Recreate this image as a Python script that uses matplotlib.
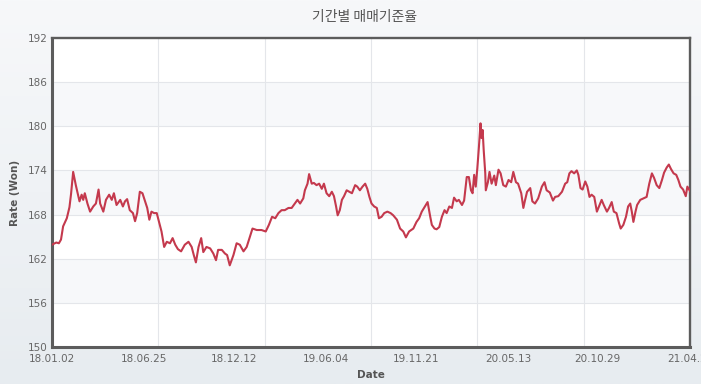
import numpy as np
import pandas as pd
import matplotlib
matplotlib.use("Agg")
import matplotlib.pyplot as plt
import matplotlib.dates as mdates

dates = [
    "2018-01-02", "2018-01-10", "2018-01-15", "2018-01-19", "2018-01-23", "2018-01-30",
    "2018-02-04", "2018-02-07", "2018-02-11", "2018-02-16", "2018-02-23", "2018-02-27",
    "2018-03-02", "2018-03-05", "2018-03-10", "2018-03-15", "2018-03-21", "2018-03-26",
    "2018-03-31", "2018-04-03", "2018-04-09", "2018-04-14", "2018-04-20", "2018-04-25",
    "2018-04-29", "2018-05-04", "2018-05-11", "2018-05-16", "2018-05-20", "2018-05-24",
    "2018-05-29", "2018-06-04", "2018-06-08", "2018-06-12", "2018-06-17", "2018-06-22",
    "2018-06-27", "2018-07-01", "2018-07-05", "2018-07-09", "2018-07-14", "2018-07-19",
    "2018-07-24", "2018-07-28", "2018-08-02", "2018-08-07", "2018-08-13", "2018-08-18",
    "2018-08-23", "2018-08-28", "2018-09-03", "2018-09-10", "2018-09-17", "2018-09-23",
    "2018-09-27", "2018-10-01", "2018-10-06", "2018-10-11", "2018-10-15", "2018-10-21",
    "2018-10-28", "2018-11-03", "2018-11-08", "2018-11-12", "2018-11-19", "2018-11-25",
    "2018-11-29", "2018-12-04", "2018-12-11", "2018-12-17", "2018-12-23", "2018-12-30",
    "2019-01-05", "2019-01-09", "2019-01-16", "2019-01-24", "2019-02-02", "2019-02-10",
    "2019-02-16", "2019-02-22", "2019-02-28", "2019-03-06", "2019-03-12", "2019-03-18",
    "2019-03-25", "2019-03-31", "2019-04-06", "2019-04-11", "2019-04-16", "2019-04-22",
    "2019-04-25", "2019-04-30", "2019-05-03", "2019-05-08", "2019-05-12", "2019-05-17",
    "2019-05-22", "2019-05-27", "2019-05-31", "2019-06-05", "2019-06-10", "2019-06-15",
    "2019-06-19", "2019-06-23", "2019-06-26", "2019-06-30", "2019-07-04", "2019-07-08",
    "2019-07-13", "2019-07-18", "2019-07-23", "2019-07-29", "2019-08-02", "2019-08-07",
    "2019-08-12", "2019-08-17", "2019-08-21", "2019-08-25", "2019-08-29", "2019-09-03",
    "2019-09-08", "2019-09-12", "2019-09-17", "2019-09-22", "2019-09-28", "2019-10-04",
    "2019-10-09", "2019-10-16", "2019-10-22", "2019-10-28", "2019-11-02", "2019-11-08",
    "2019-11-16", "2019-11-22", "2019-11-27", "2019-12-02", "2019-12-08", "2019-12-13",
    "2019-12-18", "2019-12-21", "2019-12-26", "2019-12-30", "2020-01-04", "2020-01-09",
    "2020-01-14", "2020-01-18", "2020-01-23", "2020-01-28", "2020-02-01", "2020-02-06",
    "2020-02-10", "2020-02-16", "2020-02-20", "2020-02-25", "2020-02-29", "2020-03-04",
    "2020-03-07", "2020-03-10", "2020-03-13", "2020-03-16", "2020-03-19", "2020-03-22",
    "2020-03-24", "2020-03-26", "2020-03-28", "2020-03-31", "2020-04-01", "2020-04-05",
    "2020-04-08", "2020-04-12", "2020-04-17", "2020-04-20", "2020-04-25", "2020-04-29",
    "2020-05-04", "2020-05-09", "2020-05-14", "2020-05-19", "2020-05-23", "2020-05-28",
    "2020-06-01", "2020-06-07", "2020-06-11", "2020-06-14", "2020-06-18", "2020-06-24",
    "2020-06-28", "2020-07-03", "2020-07-09", "2020-07-16", "2020-07-21", "2020-07-25",
    "2020-07-31", "2020-08-06", "2020-08-10", "2020-08-16", "2020-08-23", "2020-08-29",
    "2020-09-02", "2020-09-06", "2020-09-10", "2020-09-15", "2020-09-20", "2020-09-23",
    "2020-09-27", "2020-10-01", "2020-10-06", "2020-10-10", "2020-10-14", "2020-10-18",
    "2020-10-23", "2020-10-28", "2020-11-02", "2020-11-06", "2020-11-10", "2020-11-16",
    "2020-11-20", "2020-11-25", "2020-11-29", "2020-12-04", "2020-12-09", "2020-12-12",
    "2020-12-17", "2020-12-22", "2020-12-26", "2020-12-30", "2021-01-02", "2021-01-05",
    "2021-01-09", "2021-01-12", "2021-01-18", "2021-01-24", "2021-01-30", "2021-02-04",
    "2021-02-09", "2021-02-13", "2021-02-18", "2021-02-23", "2021-02-28", "2021-03-04",
    "2021-03-09", "2021-03-13", "2021-03-17", "2021-03-22", "2021-03-27", "2021-03-31",
    "2021-04-04", "2021-04-09", "2021-04-14", "2021-04-17", "2021-04-22",
]
rates = [
    163.9, 164.2, 164.1, 164.6, 166.4, 167.5,
    169.0, 170.8, 173.8, 172.0, 169.8, 170.7,
    170.0, 170.9, 169.5, 168.4, 169.1, 169.5,
    171.4, 169.5, 168.4, 170.0, 170.7, 170.0,
    170.9, 169.3, 170.0, 169.1, 169.8, 170.1,
    168.6, 168.2, 167.1, 168.2, 171.1, 170.9,
    169.8, 168.9, 167.3, 168.4, 168.2, 168.2,
    166.8, 165.7, 163.6, 164.3, 164.1, 164.8,
    163.9, 163.3, 163.0, 163.9, 164.3, 163.6,
    162.5, 161.5, 163.6, 164.8, 162.9, 163.6,
    163.4, 162.7, 161.8, 163.2, 163.2, 162.7,
    162.5, 161.1, 162.5, 164.1, 163.9, 163.0,
    163.6, 164.5, 166.1, 165.9, 165.9, 165.7,
    166.6, 167.7, 167.5, 168.2, 168.6, 168.6,
    168.9, 168.9, 169.5, 170.0, 169.5, 170.2,
    171.3, 172.2, 173.5, 172.2, 172.3, 172.0,
    172.2, 171.5, 172.2, 170.9, 170.5, 171.1,
    170.5, 169.1, 167.9, 168.6, 170.0, 170.5,
    171.3, 171.1, 170.9, 172.0, 171.8, 171.3,
    171.8, 172.2, 171.5, 170.4, 169.5, 169.1,
    168.9, 167.5, 167.7, 168.2, 168.4, 168.2,
    167.9, 167.3, 166.1, 165.7, 164.9, 165.7,
    166.1, 167.0, 167.5, 168.4, 169.1, 169.7,
    167.7, 166.6, 166.1, 166.0, 166.3, 167.7,
    168.6, 168.2, 169.1, 168.9, 170.3, 169.8,
    170.0, 169.3, 169.9, 173.1, 173.1, 171.3,
    170.9, 173.4, 171.8, 174.3, 177.2, 180.4,
    178.4, 179.5, 176.8, 173.6, 171.3, 172.4,
    173.8, 172.2, 173.3, 172.0, 174.1, 173.6,
    172.0, 171.8, 172.7, 172.4, 173.8, 172.4,
    172.2, 170.9, 168.9, 169.9, 171.1, 171.6,
    169.8, 169.5, 170.2, 171.8, 172.4, 171.3,
    171.0, 169.9, 170.4, 170.5, 171.1, 172.2,
    172.4, 173.6, 173.9, 173.6, 174.0, 173.4,
    171.6, 171.4, 172.5, 171.8, 170.4, 170.7,
    170.4, 168.4, 169.3, 170.0, 169.3, 168.4,
    168.9, 169.7, 168.4, 168.2, 166.8, 166.1,
    166.6, 167.7, 169.1, 169.5, 168.4, 167.0,
    168.4, 169.3, 170.0, 170.2, 170.4, 172.2,
    173.6, 173.0, 172.0, 171.6, 172.7, 173.7,
    174.4, 174.8, 174.2, 173.6, 173.4, 172.7,
    171.8, 171.4, 170.5, 171.8, 171.2,
]
tick_dates = ["2018-01-02", "2018-06-25", "2018-12-12", "2019-06-04",
              "2019-11-21", "2020-05-13", "2020-10-29", "2021-04-22"]
y_ticks = [150, 156, 162, 168, 174, 180, 186, 192]

x = pd.to_datetime(dates)
ticks = pd.to_datetime(tick_dates)
x0, x1 = mdates.date2num(x[0]), mdates.date2num(x[-1])

fig = plt.figure(figsize=(7.01, 3.84), dpi=100)

# soft vertical gradient behind everything
bg = fig.add_axes([0, 0, 1, 1], zorder=-10)
grad = np.linspace(0, 1, 256).reshape(-1, 1)
top_c = np.array([0xf7, 0xf8, 0xfa]) / 255
bot_c = np.array([0xe7, 0xec, 0xf0]) / 255
img = top_c + (bot_c - top_c) * grad[:, :, None]
bg.imshow(img, aspect="auto", extent=[0, 1, 0, 1])
bg.axis("off")

ax = fig.add_axes([52 / 701, 37 / 384, 638 / 701, 309 / 384])
ax.set_facecolor("white")

# alternating bands
for lo, hi in zip(y_ticks[1::2], y_ticks[2::2]):
    ax.axhspan(lo, hi, color="#f7f8fa", zorder=0, lw=0)
for yv in y_ticks[1:-1]:
    ax.axhline(yv, color="#e4e6ea", lw=0.8, zorder=1)
for k in range(1, 6):
    ax.axvline(x0 + (x1 - x0) * k / 6, color="#e4e6ea", lw=0.8, zorder=1)

ax.plot(x, rates, color="#c4394d", lw=1.5, zorder=3)

ax.set_xlim(x[0], x[-1])
ax.set_ylim(y_ticks[0], y_ticks[-1])
ax.set_yticks(y_ticks)
ax.set_xticks(ticks)
ax.set_xticklabels([d.strftime("%y.%m.%d") for d in ticks])
ax.tick_params(length=0, labelsize=7.5, labelcolor="#666666")
ax.tick_params(axis="y", pad=3)
ax.tick_params(axis="x", pad=5)

for side, w in (("left", 2.2), ("bottom", 2.2), ("top", 1.7), ("right", 1.7)):
    ax.spines[side].set_color("#5c5c5c")
    ax.spines[side].set_linewidth(w)

ax.set_xlabel("Date", fontsize=7.5, fontweight="bold", color="#555555", labelpad=4)
ax.set_ylabel("Rate (Won)", fontsize=7.5, fontweight="bold", color="#555555", labelpad=6)

fig.text(0.52, 0.955, "기간별 매매기준율", ha="center", va="center", fontsize=10,
         color="#555555", family=["Noto Sans CJK KR", "DejaVu Sans"])

plt.savefig("out.png", dpi=100)
